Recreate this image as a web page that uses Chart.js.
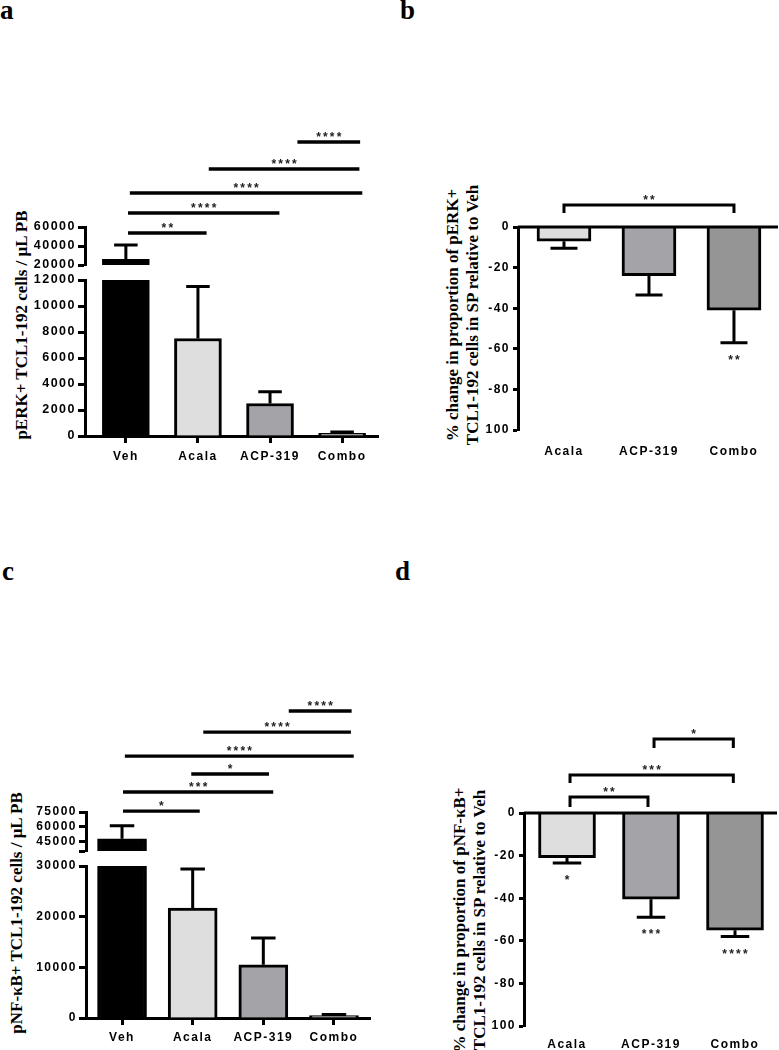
<!DOCTYPE html>
<html>
<head>
<meta charset="utf-8">
<title>pERK+ and pNF-κB+ TCL1-192 cells</title>
<script src="https://cdn.jsdelivr.net/npm/chart.js@4.4.1/dist/chart.umd.min.js"></script>
<style>
  body { margin: 0; background: #fff; }
  #fig { position: relative; width: 779px; height: 1050px; overflow: hidden; background: #fff; }
  #fig canvas { position: absolute; }
  .panel { position: absolute; font: bold 27px "Liberation Serif", "Times New Roman", serif; line-height: 27px; }
  .ytitle { position: absolute; font: bold 17px "Liberation Serif", "Times New Roman", serif; line-height: 20px;
            white-space: nowrap; text-align: center; transform: translate(-50%, -50%) rotate(-90deg); }
</style>
</head>
<body>
<div id="fig">
  <div class="panel" style="left:0px; top:-3px">a</div>
  <div class="panel" style="left:400px; top:-3px">b</div>
  <div class="panel" style="left:2px; top:558px">c</div>
  <div class="panel" style="left:395px; top:558px">d</div>

  <div class="ytitle" style="left:22px; top:325px">pERK+ TCL1-192 cells / μL PB</div>
  <div class="ytitle" style="left:463px; top:315px">% change in proportion of pERK+<br>TCL1-192 cells in SP relative to Veh</div>
  <div class="ytitle" style="left:17px; top:913px">pNF-κB+ TCL1-192 cells / μL PB</div>
  <div class="ytitle" style="left:470px; top:920px">% change in proportion of pNF-κB+<br>TCL1-192 cells in SP relative to Veh</div>

  <canvas id="aTop" width="390" height="480" style="left:0px; top:0px"></canvas>
  <canvas id="aLow" width="390" height="480" style="left:0px; top:0px"></canvas>
  <canvas id="bChart" width="389" height="480" style="left:390px; top:0px"></canvas>
  <canvas id="cTop" width="390" height="600" style="left:0px; top:480px"></canvas>
  <canvas id="cLow" width="390" height="600" style="left:0px; top:480px"></canvas>
  <canvas id="dChart" width="389" height="600" style="left:390px; top:480px"></canvas>
</div>

<script>
// ---- data ----
const groups4 = ['Veh', 'Acala', 'ACP-319', 'Combo'];
const groups3 = ['Acala', 'ACP-319', 'Combo'];

// a: pERK+ cells / uL PB (mean, SEM)
const pErkPB = [26000, 7500, 2500, 200];
const pErkPBSem = [15000, 4000, 900, 100];
const ticksALow = [0, 2000, 4000, 6000, 8000, 10000, 12000];
const ticksAHigh = [20000, 40000, 60000];
const sigA = [
  { from: 0.03, to: 1.12, at: 53700, label: '**' },
  { from: 0.03, to: 2.13, at: 74700, label: '****' },
  { from: 0.055, to: 3.28, at: 95800, label: '****' },
  { from: 1.15, to: 3.24, at: 121000, label: '****' },
  { from: 2.38, to: 3.25, at: 149500, label: '****' }
];

// b: % change pERK+ in SP relative to Veh
const pErkSP = [-7, -24, -41];
const pErkSPSem = [3.5, 9.5, 16];
const ticksPct = [0, -20, -40, -60, -80, -100];
const tickLabelsPct = ['0', '-20', '-40', '-60', '-80', '100'];
const starsB = ['', '', '**'];
const sigB = [{ from: 0, to: 2, at: 10.8, drop: 6.9, label: '**' }];

// c: pNF-kB+ cells / uL PB
const pNfkbPB = [47500, 21700, 10500, 500];
const pNfkbPBSem = [13500, 7700, 5300, 200];
const ticksCLow = [0, 10000, 20000, 30000];
const ticksCHigh = [35000, 45000, 60000, 75000];
const tickLabelsCHigh = ['', '45000', '60000', '75000'];
const sigC = [
  { from: 0.014, to: 1.10, at: 76000, label: '*' },
  { from: 0.014, to: 2.14, at: 95500, label: '***' },
  { from: 0.98, to: 2.08, at: 114000, label: '*' },
  { from: 0.04, to: 3.28, at: 132400, label: '****' },
  { from: 1.15, to: 3.24, at: 157000, label: '****' },
  { from: 2.36, to: 3.25, at: 178600, label: '****' }
];

// d: % change pNF-kB+ in SP relative to Veh
const pNfkbSP = [-21, -40.5, -55];
const pNfkbSPSem = [2.5, 8.5, 3];
const starsD = ['*', '***', '****'];
const sigD = [
  { from: 0.036, to: 0.964, at: 7.5, drop: 2.8, label: '**' },
  { from: 0.036, to: 1.98, at: 17.8, drop: 14.1, label: '***' },
  { from: 1.036, to: 1.98, at: 34.7, drop: 30.5, label: '*' }
];

const fill4 = ['#000000', '#dedede', '#a3a3a8', '#959595'];
const fill3 = ['#dedede', '#a3a3a8', '#959595'];

Chart.defaults.font.family = '"Liberation Sans", Arial, sans-serif';
Chart.defaults.font.weight = 'bold';
Chart.defaults.color = '#000';

// extra drawing info per canvas (error bars, stars, comparison lines)
const extras = {};

const letterSpacing = {
  id: 'letterSpacing',
  beforeDraw(chart) { chart.ctx.letterSpacing = '1.5px'; }
};

const marks = {
  id: 'marks',
  afterDraw(chart) {
    const o = extras[chart.canvas.id];
    if (!o) return;
    const ctx = chart.ctx, xs = chart.scales.x, ys = chart.scales.y;
    ctx.save();
    ctx.strokeStyle = '#000';
    ctx.fillStyle = '#222';
    ctx.lineWidth = 3;
    ctx.font = 'bold 12px "Liberation Sans", Arial, sans-serif';
    ctx.letterSpacing = '2.2px';
    ctx.textAlign = 'center';
    ctx.textBaseline = 'alphabetic';

    if (o.zeroLine) {
      const z = ys.getPixelForValue(0);
      ctx.beginPath();
      ctx.moveTo(chart.chartArea.left, z);
      ctx.lineTo(chart.chartArea.right, z);
      ctx.stroke();
    }

    // error bars (SEM), cap half the bar width
    o.mean.forEach((m, i) => {
      if (m < ys.min || m > ys.max) return;
      const end = m < 0 ? m - o.sem[i] : m + o.sem[i];
      const x = xs.getPixelForValue(i);
      const p0 = ys.getPixelForValue(m), p1 = ys.getPixelForValue(end);
      const half = o.barW / 4;
      ctx.beginPath();
      ctx.moveTo(x, p0); ctx.lineTo(x, p1);
      ctx.moveTo(x - half, p1); ctx.lineTo(x + half, p1);
      ctx.stroke();
      if (o.stars && o.stars[i]) ctx.fillText(o.stars[i], x + 1.1, p1 + 21);
    });

    // comparison lines / brackets
    (o.sig || []).forEach(s => {
      const x0 = xs.getPixelForValue(s.from), x1 = xs.getPixelForValue(s.to);
      const py = ys.getPixelForValue(s.at);
      ctx.lineWidth = o.sigWidth || 3;
      ctx.beginPath();
      if (s.drop != null) {
        const pd = ys.getPixelForValue(s.drop);
        ctx.moveTo(x0, pd); ctx.lineTo(x0, py); ctx.lineTo(x1, py); ctx.lineTo(x1, pd);
      } else {
        ctx.moveTo(x0, py); ctx.lineTo(x1, py);
      }
      ctx.stroke();
      ctx.fillText(s.label, (x0 + x1) / 2 + 1.1, py - 1);
    });
    ctx.restore();
  }
};

Chart.register(letterSpacing, marks);

function panelChart(id, o) {
  const cv = document.getElementById(id);
  const W = cv.width, H = cv.height;
  const [L, T, R, B] = o.area;
  const yW = 80, xH = o.showX ? 40 : 0;
  extras[id] = o;
  return new Chart(cv, {
    type: 'bar',
    data: {
      datasets: [{
        data: o.values.map((v, i) => ({ x: i, y: v })),
        backgroundColor: o.colors,
        borderColor: '#000',
        borderWidth: 3,
        barThickness: o.barW
      }]
    },
    options: {
      responsive: false,
      animation: false,
      events: [],
      layout: { padding: { left: L - yW, top: T, right: W - R, bottom: H - B - xH } },
      plugins: { legend: { display: false }, tooltip: { enabled: false } },
      scales: {
        x: {
          type: 'linear',
          display: o.showX,
          bounds: 'data',
          min: o.xRange[0],
          max: o.xRange[1],
          offset: false,
          afterBuildTicks: s => { s.ticks = o.cats.map((c, i) => ({ value: i })); },
          afterFit: s => { s.height = xH; },
          border: { display: !!o.xTicks, color: '#000', width: 3 },
          grid: { display: !!o.xTicks, offset: false, drawOnChartArea: false, tickLength: 7,
                  tickWidth: 3, tickColor: '#000', color: '#000' },
          ticks: { callback: (v, i) => o.cats[i], font: { size: 12, weight: 'bold' }, color: '#000',
                   padding: o.xPad || 0, maxRotation: 0, autoSkip: false }
        },
        y: {
          bounds: 'data',
          min: o.yRange[0],
          max: o.yRange[1],
          afterBuildTicks: s => { s.ticks = o.yTicks.map(v => ({ value: v })); },
          afterFit: s => { s.width = yW; },
          border: { display: true, color: '#000', width: 3 },
          grid: { drawOnChartArea: false, tickLength: o.tickLen, tickWidth: 3, tickColor: '#000', color: '#000' },
          ticks: { callback: (v, i) => o.yLabels[i], font: { size: o.tickSize, weight: 'bold' }, color: '#000',
                   padding: o.yPad, autoSkip: false }
        }
      }
    }
  });
}

// a: broken axis -> upper and lower charts sharing the x layout
panelChart('aTop', {
  area: [85, 227, 378, 265], xRange: [-0.567, 3.498], yRange: [20000, 60000],
  yTicks: ticksAHigh, yLabels: ticksAHigh.map(String), tickSize: 12.5, tickLen: 7, yPad: 2,
  cats: groups4, values: pErkPB.map(v => v > 20000 ? [20000, v] : null), colors: fill4, barW: 47,
  mean: pErkPB, sem: pErkPBSem, sig: sigA, sigWidth: 3.5, showX: false
});
panelChart('aLow', {
  area: [85, 280, 378, 436], xRange: [-0.567, 3.498], yRange: [0, 12000],
  yTicks: ticksALow, yLabels: ticksALow.map(String), tickSize: 12.5, tickLen: 7, yPad: 2,
  cats: groups4, values: pErkPB.map(v => Math.min(v, 12000)), colors: fill4, barW: 47,
  mean: pErkPB, sem: pErkPBSem, showX: true, xTicks: true, xPad: 6
});

panelChart('bChart', {
  area: [128, 227, 388, 430], xRange: [-0.541, 2.518], yRange: [-100, 0],
  yTicks: ticksPct, yLabels: tickLabelsPct, tickSize: 12, tickLen: 5, yPad: 3,
  cats: groups3, values: pErkSP, colors: fill3, barW: 54,
  mean: pErkSP, sem: pErkSPSem, stars: starsB, sig: sigB, zeroLine: true, showX: true, xTicks: false, xPad: 7
});

// c and d canvases start at page y=480
panelChart('cTop', {
  area: [86, 332, 370, 371], xRange: [-0.51, 3.51], yRange: [35000, 75000],
  yTicks: ticksCHigh, yLabels: tickLabelsCHigh, tickSize: 12, tickLen: 7, yPad: 2,
  cats: groups4, values: pNfkbPB.map(v => v > 35000 ? [35000, v] : null), colors: fill4, barW: 49,
  mean: pNfkbPB, sem: pNfkbPBSem, sig: sigC, sigWidth: 3.3, showX: false
});
panelChart('cLow', {
  area: [86, 386, 370, 538], xRange: [-0.51, 3.51], yRange: [0, 30000],
  yTicks: ticksCLow, yLabels: ticksCLow.map(String), tickSize: 12, tickLen: 7, yPad: 2,
  cats: groups4, values: pNfkbPB.map(v => Math.min(v, 30000)), colors: fill4, barW: 49,
  mean: pNfkbPB, sem: pNfkbPBSem, showX: true, xTicks: true, xPad: 5
});

panelChart('dChart', {
  area: [134, 333, 387, 546], xRange: [-0.512, 2.5], yRange: [-100, 0],
  yTicks: ticksPct, yLabels: tickLabelsPct, tickSize: 12, tickLen: 5, yPad: 3,
  cats: groups3, values: pNfkbSP, colors: fill3, barW: 57,
  mean: pNfkbSP, sem: pNfkbSPSem, stars: starsD, sig: sigD, zeroLine: true, showX: true, xTicks: false, xPad: 4
});
</script>
</body>
</html>
